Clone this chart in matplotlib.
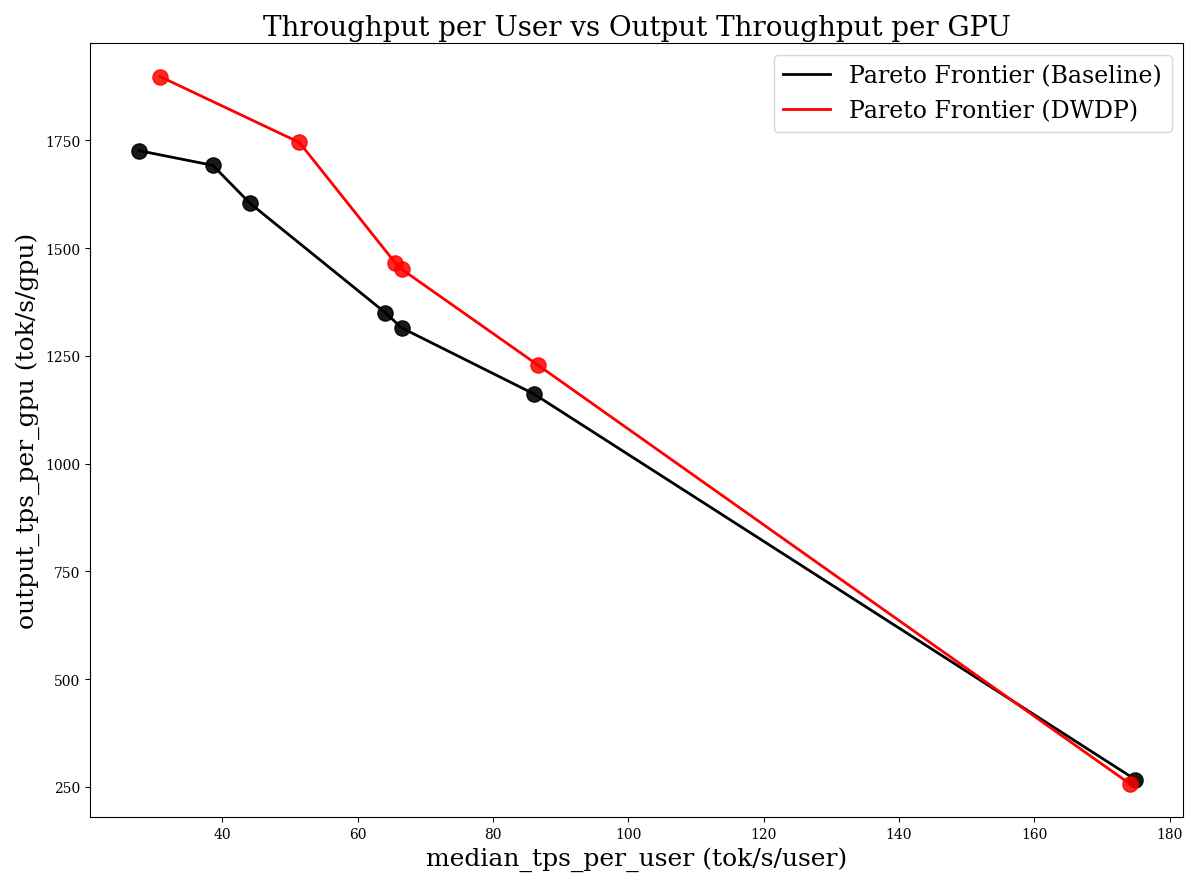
import matplotlib.pyplot as plt

plt.rcParams['font.family'] = 'DejaVu Serif'

base_x = [27.7, 38.6, 44.1, 64.1, 66.5, 86.0, 174.9]
base_y = [1726, 1692, 1604, 1350, 1315, 1162, 267]
dwdp_x = [30.8, 51.4, 65.6, 66.5, 86.6, 174.1]
dwdp_y = [1898, 1745, 1465, 1451, 1229, 257]

fig, ax = plt.subplots(figsize=(12, 8.87), dpi=100)
ax.plot(base_x, base_y, color='black', lw=2, label='Pareto Frontier (Baseline)')
ax.scatter(base_x, base_y, color='black', s=120, alpha=0.9, zorder=3)
ax.plot(dwdp_x, dwdp_y, color='red', lw=2, label='Pareto Frontier (DWDP)')
ax.scatter(dwdp_x, dwdp_y, color='red', s=120, alpha=0.85, zorder=3)

ax.set_xlim(20.5, 182)
ax.set_ylim(180, 1975)
ax.set_yticks([250, 500, 750, 1000, 1250, 1500, 1750])
ax.set_xticks(range(40, 181, 20))
ax.set_title('Throughput per User vs Output Throughput per GPU', fontsize=20)
ax.set_xlabel('median_tps_per_user (tok/s/user)', fontsize=18)
ax.set_ylabel('output_tps_per_gpu (tok/s/gpu)', fontsize=18)
ax.legend(fontsize=17, loc='upper right')
plt.tight_layout()
plt.savefig('out.png')
